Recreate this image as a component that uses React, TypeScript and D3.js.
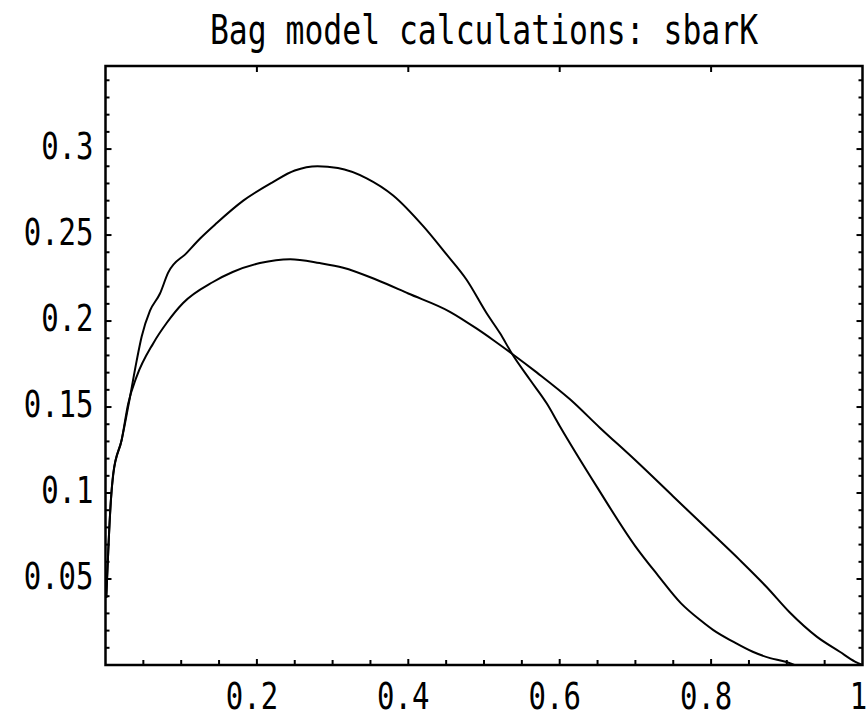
import React from "react";
import * as d3 from "d3";

const titleText = "Bag model calculations: sbarK";

const curveAx = [0.001, 0.004, 0.007, 0.0103, 0.0214, 0.0324, 0.0412, 0.0478, 0.0588, 0.072, 0.0826, 0.107, 0.125, 0.147, 0.182, 0.22, 0.25, 0.28, 0.307, 0.345, 0.38, 0.42, 0.45, 0.477, 0.5035, 0.521, 0.537, 0.561, 0.583, 0.6, 0.65, 0.7, 0.73, 0.76, 0.786, 0.803, 0.829, 0.855, 0.878, 0.897, 0.91];
const curveAy = [0.039, 0.07, 0.095, 0.1116, 0.131, 0.156, 0.177, 0.191, 0.206, 0.216, 0.228, 0.2395, 0.248, 0.257, 0.27, 0.2805, 0.2875, 0.29, 0.289, 0.283, 0.273, 0.255, 0.239, 0.224, 0.2045, 0.193, 0.181, 0.1657, 0.152, 0.139, 0.103, 0.069, 0.052, 0.036, 0.026, 0.0203, 0.0136, 0.0077, 0.004, 0.002, 0.0];

const curveBx = [0.001, 0.004, 0.007, 0.0103, 0.0214, 0.03, 0.041, 0.063, 0.081, 0.1025, 0.142, 0.168, 0.204, 0.244, 0.283, 0.314, 0.358, 0.4, 0.455, 0.49, 0.512, 0.537, 0.57, 0.6136, 0.653, 0.7, 0.75, 0.8, 0.838, 0.873, 0.904, 0.9395, 0.97, 0.99, 1.0];
const curveBy = [0.039, 0.07, 0.095, 0.111, 0.131, 0.152, 0.1675, 0.187, 0.199, 0.2105, 0.2227, 0.2285, 0.2337, 0.236, 0.2337, 0.231, 0.224, 0.216, 0.2054, 0.1957, 0.189, 0.181, 0.17, 0.1545, 0.138, 0.119, 0.098, 0.077, 0.061, 0.0455, 0.0305, 0.0165, 0.0077, 0.002, 0.0];

const xTickLabels = [0.2, 0.4, 0.6, 0.8, 1];
const yTickLabels = [0.05, 0.1, 0.15, 0.2, 0.25, 0.3];

const W = 868;
const H = 717;
const L = 105.5;
const R = 862.5;
const T = 66;
const B = 665;

export default function App() {
  const x = d3.scaleLinear().domain([0, 1]).range([L, R]);
  const y = d3.scaleLinear().domain([0, 0.3483]).range([B, T]);

  const line = d3
    .line<[number, number]>()
    .x((d) => x(d[0]))
    .y((d) => y(d[1]))
    .curve(d3.curveMonotoneX);

  const ptsA: [number, number][] = curveAx.map((v, i) => [v, curveAy[i]]);
  const ptsB: [number, number][] = curveBx.map((v, i) => [v, curveBy[i]]);

  const xMinor = d3.range(1, 20).map((i) => i * 0.05);
  const yMinor = d3.range(1, 35).map((i) => i * 0.01);

  const font = "'DejaVu Sans Mono', 'Liberation Mono', monospace";
  const fmt = (v: number) => (v === 1 ? "1" : String(+v.toFixed(2)));

  return (
    <svg
      width={W}
      height={H}
      style={{ position: "absolute", left: 0, top: 0, background: "#fff" }}
    >
      <rect x={0} y={0} width={W} height={H} fill="#fff" />
      <text
        transform={`translate(${(L + R) / 2},44) scale(1,1.3)`}
        textAnchor="middle"
        fontFamily={font}
        fontSize={31.4}
        fill="#000"
      >
        {titleText}
      </text>

      {/* curves */}
      <path d={line(ptsA) || ""} fill="none" stroke="#000" strokeWidth={2} />
      <path d={line(ptsB) || ""} fill="none" stroke="#000" strokeWidth={2} />

      {/* ticks bottom */}
      {xMinor.map((v, i) => {
        const major = (i + 1) % 4 === 0;
        return (
          <line key={"bx" + i} x1={x(v)} x2={x(v)} y1={B} y2={B - (major ? 6 : 5)} stroke="#000" strokeWidth={2} />
        );
      })}
      {/* ticks top (major) */}
      {[0.2, 0.4, 0.6, 0.8].map((v, i) => (
        <line key={"tx" + i} x1={x(v)} x2={x(v)} y1={T} y2={T + 6} stroke="#000" strokeWidth={2} />
      ))}
      {/* ticks left & right */}
      {yMinor.map((v, i) => {
        const major = (i + 1) % 5 === 0;
        const len = major ? 6 : 4;
        return (
          <g key={"y" + i}>
            <line x1={L} x2={L + len} y1={y(v)} y2={y(v)} stroke="#000" strokeWidth={2} />
            <line x1={R} x2={R - len} y1={y(v)} y2={y(v)} stroke="#000" strokeWidth={2} />
          </g>
        );
      })}

      {/* frame */}
      <rect x={L} y={T} width={R - L} height={B - T} fill="none" stroke="#000" strokeWidth={2.5} />

      {/* tick labels */}
      {xTickLabels.map((v, i) => (
        <text
          key={"xl" + i}
          transform={`translate(${x(v) - (v === 1 ? 4 : 5)},${B + 44}) scale(1,1.3)`}
          textAnchor="middle"
          fontFamily={font}
          fontSize={29}
          fill="#000"
        >
          {fmt(v)}
        </text>
      ))}
      {yTickLabels.map((v, i) => (
        <text
          key={"yl" + i}
          transform={`translate(${L - 12},${y(v) + 10}) scale(1,1.3)`}
          textAnchor="end"
          fontFamily={font}
          fontSize={29}
          fill="#000"
        >
          {fmt(v)}
        </text>
      ))}
    </svg>
  );
}
